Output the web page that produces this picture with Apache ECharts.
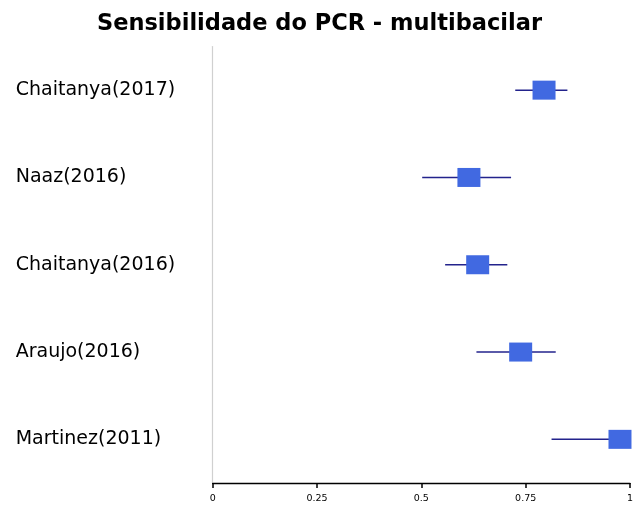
<!DOCTYPE html>
<html>
<head>
<meta charset="utf-8">
<script src="https://cdn.jsdelivr.net/npm/echarts@6/dist/echarts.min.js"></script>
<style>
html, body { margin: 0; padding: 0; background: #fff; }
#main { width: 639px; height: 507px; }
</style>
</head>
<body>
<div id="main"></div>
<script>
var studies = ['Chaitanya(2017)', 'Naaz(2016)', 'Chaitanya(2016)', 'Araujo(2016)', 'Martinez(2011)'];
var estimate = [0.794, 0.614, 0.635, 0.738, 0.976];
var lower = [0.725, 0.502, 0.557, 0.632, 0.812];
var upper = [0.850, 0.715, 0.706, 0.822, 1.0];
var xTicks = [0, 0.25, 0.5, 0.75, 1];

var myChart = echarts.init(document.getElementById('main'));

var ciData = studies.map(function (s, i) { return [lower[i], upper[i], i]; });
var ptData = studies.map(function (s, i) { return [estimate[i], i]; });

option = {
    animation: false,
    title: {
        text: 'Sensibilidade do PCR - multibacilar',
        left: 'center',
        top: 8,
        textStyle: { fontFamily: 'DejaVu Sans', fontWeight: 'bold', fontSize: 22.5, color: '#000' }
    },
    grid: { left: 212.7, right: 9, top: 46.5, bottom: 24 },
    xAxis: {
        type: 'value',
        min: 0,
        max: 1,
        interval: 0.25,
        axisLine: { show: true, onZero: false, lineStyle: { color: '#000', width: 1.3 } },
        axisTick: { show: true, inside: false, length: 5, lineStyle: { color: '#000', width: 1.5 } },
        axisLabel: {
            fontFamily: 'DejaVu Sans', fontSize: 9.5, color: '#000', margin: 11,
            formatter: function (v) { return xTicks.indexOf(v) >= 0 ? String(v) : ''; }
        },
        splitLine: { show: false }
    },
    yAxis: {
        type: 'category',
        data: studies,
        inverse: true,
        axisLine: { lineStyle: { color: '#d0d0d0', width: 1.2 } },
        axisTick: { show: false },
        axisLabel: {
            align: 'left', margin: 197, fontFamily: 'DejaVu Sans', fontSize: 19, color: '#000'
        },
        splitLine: { show: false }
    },
    series: [
        {
            type: 'custom',
            data: ciData,
            clip: true,
            renderItem: function (params, api) {
                var a = api.coord([api.value(0), api.value(2)]);
                var b = api.coord([api.value(1), api.value(2)]);
                return {
                    type: 'line',
                    shape: { x1: a[0], y1: a[1], x2: b[0], y2: b[1] },
                    style: { stroke: '#23238c', lineWidth: 1.5 }
                };
            },
            encode: { x: [0, 1], y: 2 },
            z: 2
        },
        {
            type: 'scatter',
            data: ptData,
            symbol: 'rect',
            symbolSize: [23, 19],
            itemStyle: { color: '#4169E1', opacity: 1 },
            z: 3
        }
    ]
};

myChart.setOption(option);
</script>
</body>
</html>
